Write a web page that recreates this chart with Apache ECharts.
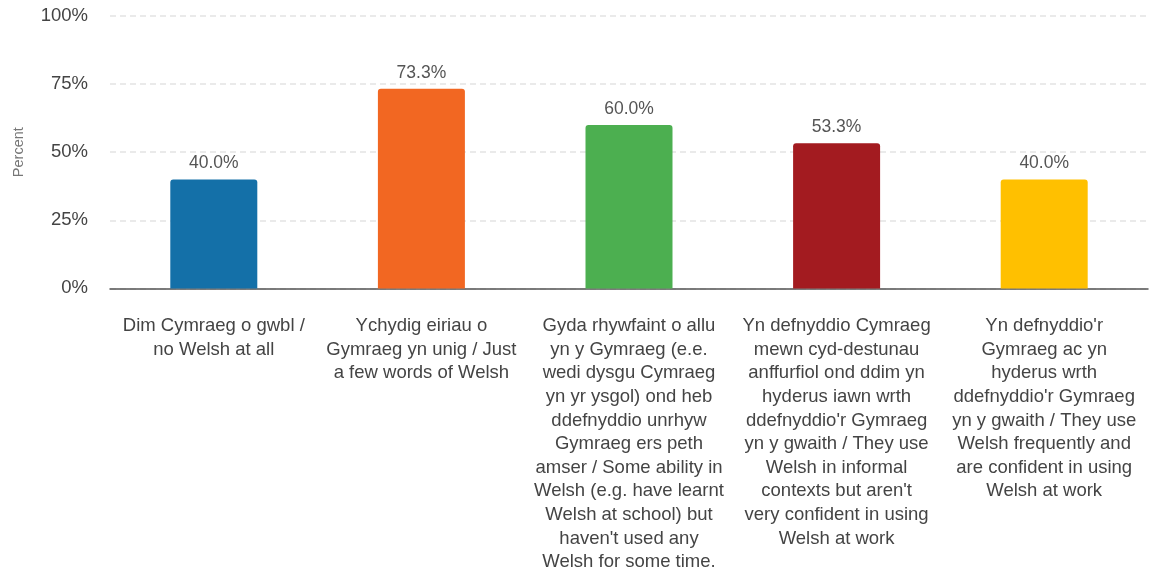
<!DOCTYPE html>
<html>
<head>
<meta charset="utf-8">
<script src="https://cdn.jsdelivr.net/npm/echarts@6/dist/echarts.min.js"></script>
<style>
  html, body { margin: 0; padding: 0; background: #fff; }
  #chart { width: 1149px; height: 574px; }
</style>
</head>
<body>
<div id="chart"></div>
<script>
// categories (line breaks as in the original)
const categories = [
  'Dim Cymraeg o gwbl /\nno Welsh at all',
  'Ychydig eiriau o\nGymraeg yn unig / Just\na few words of Welsh',
  'Gyda rhywfaint o allu\nyn y Gymraeg (e.e.\nwedi dysgu Cymraeg\nyn yr ysgol) ond heb\nddefnyddio unrhyw\nGymraeg ers peth\namser / Some ability in\nWelsh (e.g. have learnt\nWelsh at school) but\nhaven\'t used any\nWelsh for some time.',
  'Yn defnyddio Cymraeg\nmewn cyd-destunau\nanffurfiol ond ddim yn\nhyderus iawn wrth\nddefnyddio\'r Gymraeg\nyn y gwaith / They use\nWelsh in informal\ncontexts but aren\'t\nvery confident in using\nWelsh at work',
  'Yn defnyddio\'r\nGymraeg ac yn\nhyderus wrth\nddefnyddio\'r Gymraeg\nyn y gwaith / They use\nWelsh frequently and\nare confident in using\nWelsh at work'
]
const values = [40.0, 73.3, 60.0, 53.3, 40.0]
const barColors = ['#1470a8', '#f26722', '#4caf50', '#a31b20', '#ffc000']
const yTicks = [0, 25, 50, 75, 100]

const chart = echarts.init(document.getElementById('chart'))
const font = '"Liberation Sans", Arial, sans-serif'

chart.setOption({
  animation: false,
  textStyle: { fontFamily: font },
  grid: { left: 110, right: 1, top: 16, bottom: 282, containLabel: false },
  xAxis: {
    type: 'category',
    data: categories,
    axisLine: { lineStyle: { color: '#555', width: 1.5 } },
    axisTick: { show: false },
    axisLabel: {
      interval: 0,
      margin: 26,
      fontSize: 18.5,
      lineHeight: 23.6,
      color: '#444',
      fontFamily: font,
      verticalAlign: 'top',
      align: 'center'
    }
  },
  yAxis: {
    type: 'value',
    min: yTicks[0],
    max: yTicks[yTicks.length - 1],
    interval: 25,
    name: 'Percent',
    nameLocation: 'middle',
    nameGap: 84,
    nameTextStyle: { fontSize: 14.5, color: '#777', fontFamily: font },
    axisLine: { show: false },
    axisTick: { show: false },
    axisLabel: {
      fontSize: 18.5,
      color: '#444',
      margin: 22,
      fontFamily: font,
      formatter: v => v + '%'
    },
    splitLine: { lineStyle: { color: '#e3e3e3', type: [6, 4], width: 1.5 } }
  },
  series: [
    {
      type: 'bar',
      barWidth: 87,
      data: values.map((v, i) => ({ value: v, itemStyle: { color: barColors[i] } })),
      itemStyle: { borderRadius: [3, 3, 0, 0] },
      label: {
        show: true,
        position: 'top',
        distance: 7,
        fontSize: 17.5,
        color: '#555',
        fontFamily: font,
        formatter: p => p.value.toFixed(1) + '%'
      }
    }
  ]
})
</script>
</body>
</html>
